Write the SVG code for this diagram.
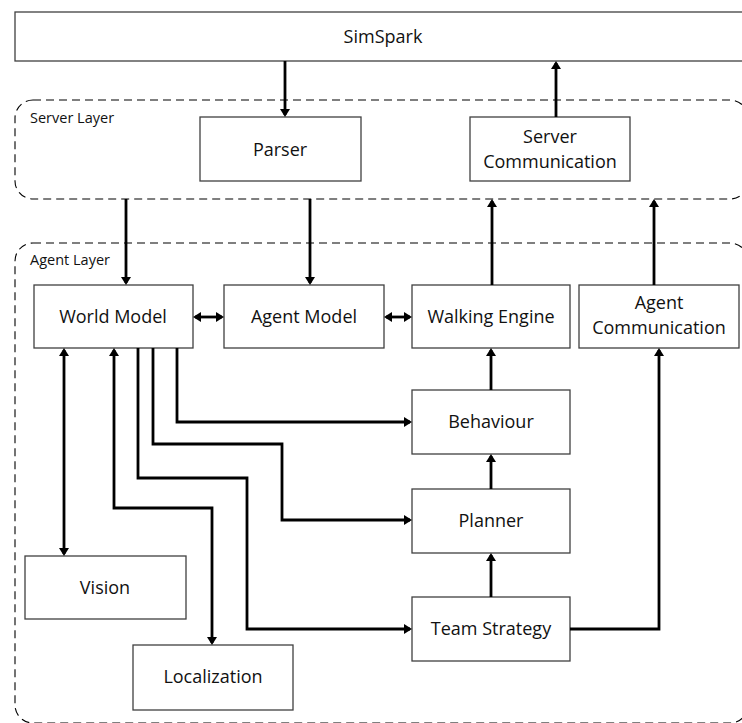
<svg xmlns="http://www.w3.org/2000/svg" width="742" height="723" viewBox="0 0 742 723">
<style>
.box{fill:#fff;stroke:#404040;stroke-width:1.3}
.layer{fill:none;stroke:#000;stroke-width:1.1;stroke-dasharray:8 5}
.t{font-family:"Open Sans","Liberation Sans",sans-serif;font-size:18px;fill:#111;text-anchor:middle}
.lbl{font-family:"Open Sans","Liberation Sans",sans-serif;font-size:14.5px;fill:#111}
.c{fill:none;stroke:#000;stroke-width:2.8;marker-end:url(#ah)}
.d{marker-start:url(#ah)}
</style>
<defs>
<marker id="ah" viewBox="0 0 8 10" refX="6" refY="5" markerWidth="8" markerHeight="10" markerUnits="userSpaceOnUse" orient="auto-start-reverse"><path d="M0,0L8,5L0,10z" fill="#000"/></marker>
</defs>
<rect width="742" height="723" fill="#fff"/>
<g id="server-layer"><rect class="layer" x="15" y="100" width="733" height="99" rx="18"/><text class="lbl" x="30" y="123">Server Layer</text></g>
<g id="agent-layer"><rect class="layer" x="15" y="243" width="733" height="480" rx="18"/><text class="lbl" x="30" y="265">Agent Layer</text></g>
<g id="simspark"><rect class="box" x="15" y="12" width="740" height="49"/><text class="t" x="383" y="43">SimSpark</text></g>
<g id="parser"><rect class="box" x="200" y="117" width="161" height="64"/><text class="t" x="280" y="156">Parser</text></g>
<g id="server-communication"><rect class="box" x="470" y="117" width="160" height="64"/><text class="t" x="550" y="143">Server</text><text class="t" x="550" y="168">Communication</text></g>
<g id="world-model"><rect class="box" x="34" y="285" width="159" height="63"/><text class="t" x="113" y="323">World Model</text></g>
<g id="agent-model"><rect class="box" x="224" y="285" width="160" height="63"/><text class="t" x="304" y="323">Agent Model</text></g>
<g id="walking-engine"><rect class="box" x="412" y="285" width="158" height="63"/><text class="t" x="491" y="323">Walking Engine</text></g>
<g id="agent-communication"><rect class="box" x="579" y="285" width="160" height="63"/><text class="t" x="659" y="309">Agent</text><text class="t" x="659" y="334">Communication</text></g>
<g id="behaviour"><rect class="box" x="412" y="390" width="158" height="64"/><text class="t" x="491" y="428">Behaviour</text></g>
<g id="planner"><rect class="box" x="412" y="489" width="158" height="64"/><text class="t" x="491" y="527">Planner</text></g>
<g id="team-strategy"><rect class="box" x="412" y="597" width="158" height="64"/><text class="t" x="491" y="635">Team Strategy</text></g>
<g id="vision"><rect class="box" x="25" y="556" width="161" height="63"/><text class="t" x="105" y="594">Vision</text></g>
<g id="localization"><rect class="box" x="133" y="645" width="160" height="65"/><text class="t" x="213" y="683">Localization</text></g>
<g id="connectors">
<path class="c" d="M285,61V115"/>
<path class="c" d="M556,117V63"/>
<path class="c" d="M126,199V283"/>
<path class="c" d="M310,199V283"/>
<path class="c" d="M492,285V201"/>
<path class="c" d="M654,285V201"/>
<path class="c d" d="M195,317H222"/>
<path class="c d" d="M386,317H410"/>
<path class="c d" d="M64,350V554"/>
<path class="c d" d="M114,350V508H212V643"/>
<path class="c" d="M138,348V478H247V629H410"/>
<path class="c" d="M153,348V444H282V520H410"/>
<path class="c" d="M177,348V422H410"/>
<path class="c" d="M491,390V350"/>
<path class="c" d="M491,489V456"/>
<path class="c" d="M491,597V555"/>
<path class="c" d="M570,629H659V350"/>
</g>
</svg>
